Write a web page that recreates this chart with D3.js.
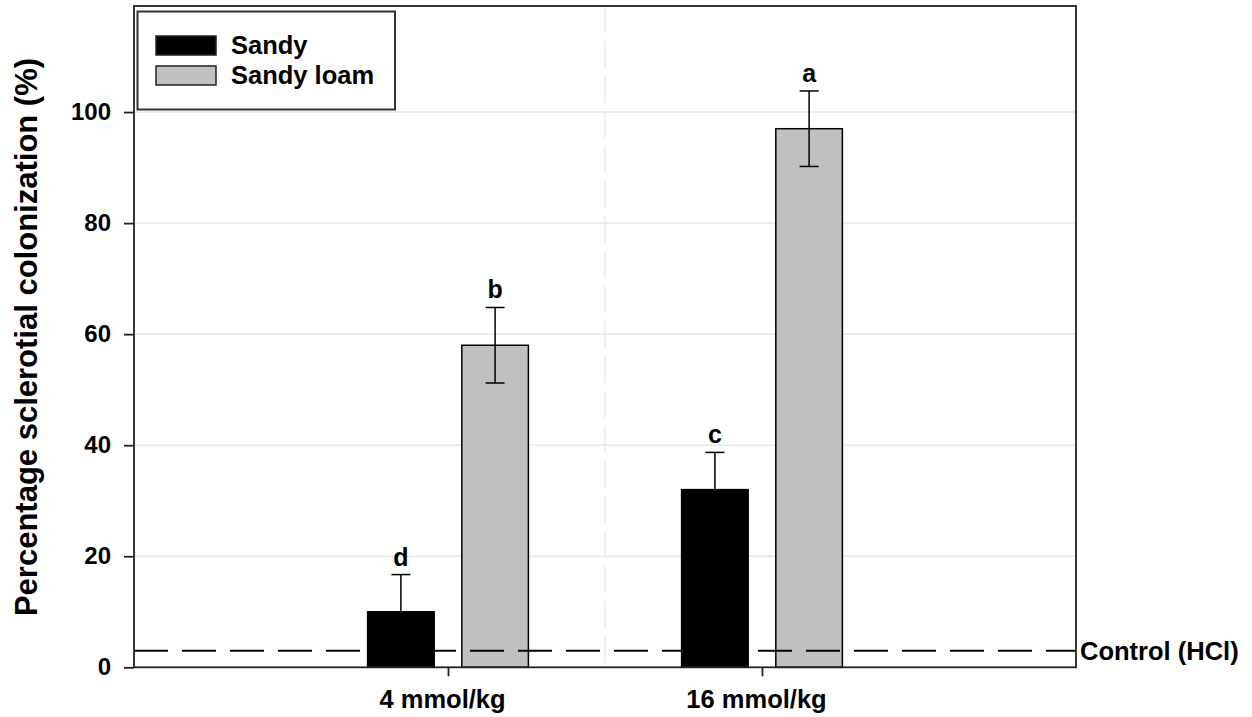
<!DOCTYPE html>
<html>
<head>
<meta charset="utf-8">
<script src="https://cdn.jsdelivr.net/npm/d3@7"></script>
<style>
  html, body { margin: 0; padding: 0; background: #fff; }
  text { font-family: "Liberation Sans", Arial, sans-serif; font-weight: bold; fill: #000; }
</style>
</head>
<body>
<svg id="chart" width="1252" height="717"></svg>
<script>
const categories = ["4 mmol/kg", "16 mmol/kg"];
const categoryPositions = [1, 2];
const seriesNames = ["Sandy", "Sandy loam"];
const sandyValues = [10, 32];
const sandyErrors = [6.7, 6.7];
const sandyLetters = ["d", "c"];
const loamValues = [58, 97];
const loamErrors = [6.8, 6.8];
const loamLetters = ["b", "a"];
const yTicks = [0, 20, 40, 60, 80, 100];
const controlValue = 3;
const controlLabel = "Control (HCl)";
const yTitle = "Percentage sclerotial colonization (%)";

(function () {
const svg = d3.select("#chart");
const pLeft = 134, pRight = 1076, pTop = 6, pBottom = 667.3;

const x = d3.scaleLinear().domain([0, 3]).range([pLeft, pRight]);
const y = d3.scaleLinear().domain([0, 119.1]).range([pBottom, pTop]);
const offset = 0.15, barW = x(0.212) - x(0);

const seriesColors = ["#000000", "#c0c0c0"];

// gridlines
svg.append("g").selectAll("line").data(yTicks.filter(d => d > 0)).join("line")
  .attr("x1", pLeft).attr("x2", pRight)
  .attr("y1", d => y(d)).attr("y2", d => y(d))
  .attr("stroke", "#e6e6e6").attr("stroke-width", 1.5);
svg.append("line")
  .attr("x1", x(1.5)).attr("x2", x(1.5)).attr("y1", pTop).attr("y2", pBottom)
  .attr("stroke", "#ececec").attr("stroke-width", 1.5).attr("stroke-dasharray", "27,8");

// bars
const data = [];
categoryPositions.forEach((c, i) => {
  data.push({ pos: c - offset, v: sandyValues[i], e: sandyErrors[i], l: sandyLetters[i], s: 0 });
  data.push({ pos: c + offset, v: loamValues[i], e: loamErrors[i], l: loamLetters[i], s: 1 });
});

svg.append("g").selectAll("rect").data(data).join("rect")
  .attr("x", d => x(d.pos) - barW / 2)
  .attr("y", d => y(d.v))
  .attr("width", barW)
  .attr("height", d => y(0) - y(d.v))
  .attr("fill", d => seriesColors[d.s])
  .attr("stroke", "#000").attr("stroke-width", 1.5);

// error bars
const eb = svg.append("g").attr("stroke", "#000").attr("stroke-width", 1.5);
data.forEach(d => {
  const cx = x(d.pos);
  eb.append("line").attr("x1", cx).attr("x2", cx).attr("y1", y(d.v - d.e)).attr("y2", y(d.v + d.e));
  eb.append("line").attr("x1", cx - 9.5).attr("x2", cx + 9.5).attr("y1", y(d.v + d.e)).attr("y2", y(d.v + d.e));
  eb.append("line").attr("x1", cx - 9.5).attr("x2", cx + 9.5).attr("y1", y(d.v - d.e)).attr("y2", y(d.v - d.e));
});

// letters
svg.append("g").selectAll("text").data(data).join("text")
  .attr("x", d => x(d.pos))
  .attr("y", d => y(d.v + d.e) - 9)
  .attr("text-anchor", "middle")
  .attr("font-size", 25)
  .text(d => d.l);

// control dashed line
svg.append("line")
  .attr("x1", pLeft).attr("x2", pRight)
  .attr("y1", y(controlValue)).attr("y2", y(controlValue))
  .attr("stroke", "#000").attr("stroke-width", 2).attr("stroke-dasharray", "34,14");
svg.append("text")
  .attr("x", pRight + 4).attr("y", y(controlValue) + 9)
  .attr("font-size", 25.5)
  .text(controlLabel);

// frame
svg.append("rect")
  .attr("x", pLeft).attr("y", pTop).attr("width", pRight - pLeft).attr("height", pBottom - pTop)
  .attr("fill", "none").attr("stroke", "#222").attr("stroke-width", 1.8);

// y axis
const yAxis = svg.append("g").attr("transform", `translate(${pLeft},0)`)
  .call(d3.axisLeft(y).tickValues(yTicks).tickSize(10).tickPadding(13).tickFormat(d3.format("d")));
yAxis.select(".domain").remove();
yAxis.selectAll(".tick line").attr("stroke", "#222").attr("stroke-width", 1.8);
yAxis.selectAll(".tick text").attr("font-size", 24).attr("font-family", "Liberation Sans, Arial, sans-serif").attr("font-weight", "bold").attr("fill", "#000");

// x axis
const xAxis = svg.append("g").attr("transform", `translate(0,${pBottom})`)
  .call(d3.axisBottom(x).tickValues(categoryPositions).tickSize(9).tickPadding(14)
    .tickFormat((d, i) => categories[i]));
xAxis.select(".domain").remove();
xAxis.selectAll(".tick line").attr("stroke", "#222").attr("stroke-width", 1.8);
xAxis.selectAll(".tick text").attr("font-size", 25.5).attr("dx", -6)
  .attr("font-family", "Liberation Sans, Arial, sans-serif").attr("font-weight", "bold").attr("fill", "#000");

// y title
svg.append("text")
  .attr("transform", `translate(37,${(619 + 55) / 2}) rotate(-90)`)
  .attr("text-anchor", "middle")
  .attr("font-size", 31)
  .text(yTitle);

// legend
const lg = svg.append("g");
lg.append("rect").attr("x", 137.5).attr("y", 11.5).attr("width", 257.5).attr("height", 98)
  .attr("fill", "#fff").attr("stroke", "#333").attr("stroke-width", 2);
seriesNames.forEach((n, i) => {
  lg.append("rect").attr("x", 156).attr("y", 36 + i * 30).attr("width", 60).attr("height", 19)
    .attr("fill", seriesColors[i]).attr("stroke", "#222").attr("stroke-width", 1.5);
  lg.append("text").attr("x", 231).attr("y", 54 + i * 29.5).attr("font-size", 25.5).text(n);
});
})();
</script>
</body>
</html>
